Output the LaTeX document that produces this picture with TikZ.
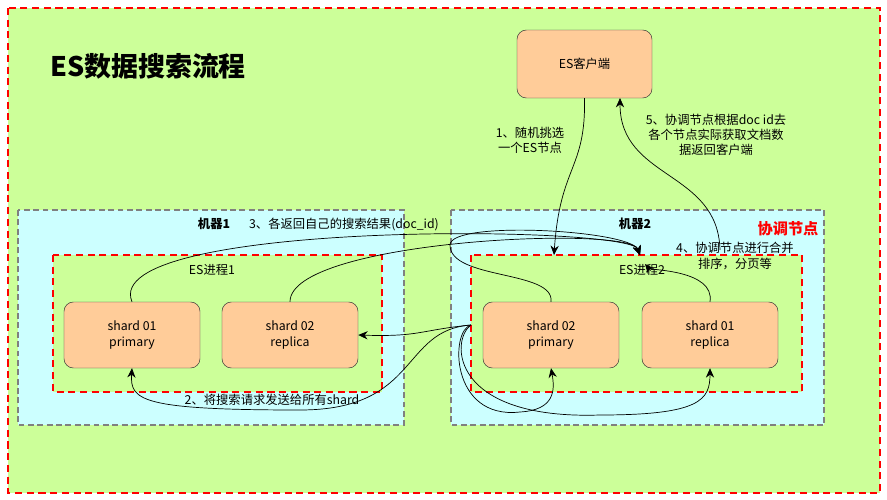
\documentclass[tikz,border=0pt]{standalone}
\usepackage{fontspec}
\setmainfont{Noto Sans CJK SC}
\usetikzlibrary{arrows.meta}
\definecolor{bggreen}{HTML}{CCFF99}
\definecolor{bgcyan}{HTML}{CCFFFF}
\definecolor{boxorange}{HTML}{FFCC99}
\definecolor{dashred}{HTML}{FF0000}

\tikzset{
  shard/.style={draw=black!80,fill=boxorange,rounded corners=8pt,align=center,
    minimum width=4.08cm,minimum height=1.98cm,font=\fontsize{10.5}{14}\selectfont},
  machine/.style={draw=gray,dashed,line width=1.2pt,dash pattern=on 5pt off 3pt,fill=bgcyan},
  proc/.style={draw=dashred,line width=1.3pt,dash pattern=on 6pt off 4pt,fill=bggreen},
  lbl/.style={font=\fontsize{10.5}{13}\selectfont,align=center},
  flow/.style={-{Stealth[length=8pt,width=7pt]},semithick}
}

\begin{document}
\begin{tikzpicture}[x=0.03cm,y=-0.03cm]
  \useasboundingbox (0,0) rectangle (887,500);
  \fill[white] (0,0) rectangle (887,500);

% frames
  \draw[proc] (8,8) rectangle (880,493);
  \node[font=\bfseries\fontsize{23}{26}\selectfont] (title) at (148,66) {ES数据搜索流程};
  \draw[machine] (18,210) rectangle (404,425);
  \draw[machine] (451,210) rectangle (824,425);
  \draw[proc] (53,255) rectangle (382,392);
  \draw[proc] (471,255) rectangle (802,392);

  \node[lbl,font=\bfseries\fontsize{10.5}{13}\selectfont] (m1) at (214,224) {机器1};
  \node[lbl,font=\bfseries\fontsize{10.5}{13}\selectfont] (m2) at (635,224) {机器2};
  \node[lbl,text=dashred,font=\bfseries\fontsize{13}{15}\selectfont] (coord) at (788,229) {协调节点};
  \node[lbl] (p1) at (212,270) {ES进程1};
  \node[lbl] (p2) at (642,270) {ES进程2};

% nodes
  \node[shard,minimum width=4.05cm,minimum height=2.04cm] (client) at (584.5,64) {ES客户端};
  \node[shard] (s1p) at (132,335) {shard 01\\primary};
  \node[shard] (s2r) at (290,335) {shard 02\\replica};
  \node[shard] (s2p) at (551,335) {shard 02\\primary};
  \node[shard] (s1r) at (710,335) {shard 01\\replica};

  \coordinate (hub) at (640,255);
  \coordinate (hub2) at (645,264);
  \coordinate (send) at (471,325);
  \coordinate (entry) at (554,255);
  \coordinate (back) at (720,250);

% steps 1 and 5
  \draw[flow] (client.south) .. controls (586,170) and (560,165) .. (entry);
  \draw[flow] (back) .. controls (718,170) and (620,180) .. (620,98);
  \node[lbl] (t1) at (530,140) {1、随机挑选\\一个ES节点};
  \node[lbl] (t5) at (716,135) {5、协调节点根据doc id去\\各个节点实际获取文档数\\据返回客户端};

% step 3
  \draw[flow] (s1p.north) .. controls (98,220) and (630,225) .. (hub);
  \draw[flow] (s2r.north) .. controls (290,240) and (630,225) .. (hub);
  \draw[flow] (s2p.north) .. controls (555,270) and (450,280) .. (450,245) .. controls (450,220) and (630,230) .. (hub);
  \draw[flow] (s1r.north) .. controls (715,270) and (650,270) .. (hub2);
  \node[lbl] (t3) at (344,224) {3、各返回自己的搜索结果(doc\_id)};
  \node[lbl] (t4) at (735,256) {4、协调节点进行合并\\排序，分页等};

% step 2
  \draw[flow] (send) .. controls (420,330) and (420,337) .. (s2r.east);
  \draw[flow] (send) .. controls (400,330) and (420,410) .. (300,410) .. controls (140,410) and (130,400) .. (s1p.south);
  \draw[flow] (send) .. controls (450,330) and (450,420) .. (520,412) .. controls (555,410) and (555,390) .. (s2p.south);
  \draw[flow] (send) .. controls (450,340) and (450,420) .. (600,415) .. controls (700,415) and (710,400) .. (s1r.south);
  \node[lbl] (t2) at (272,400) {2、将搜索请求发送给所有shard};
\end{tikzpicture}
\end{document}
